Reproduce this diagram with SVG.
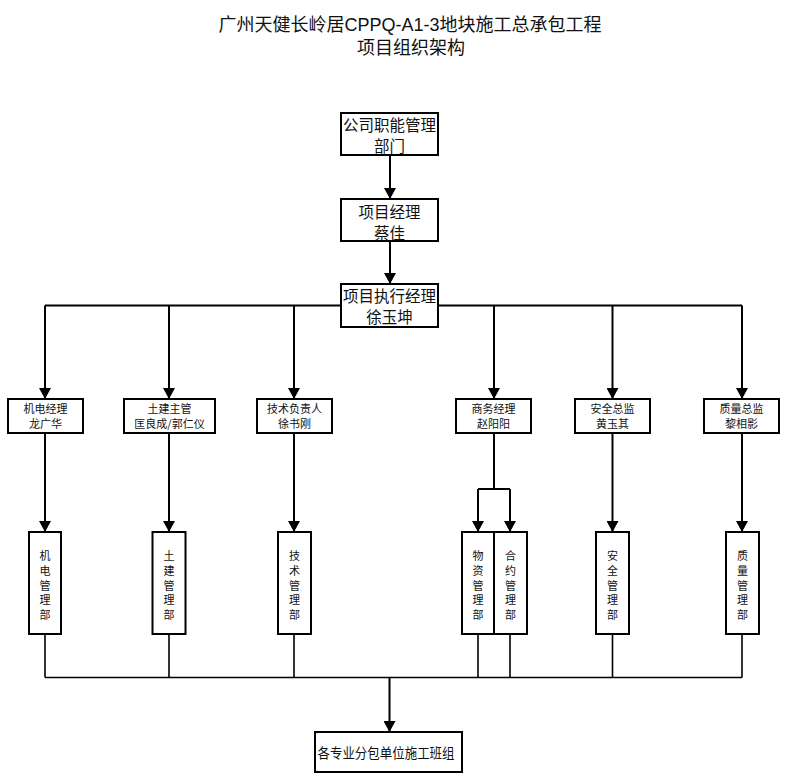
<svg xmlns="http://www.w3.org/2000/svg" width="812" height="777" viewBox="0 0 812 777">
<style>
text{font-family:"Noto Sans CJK SC","Liberation Sans",sans-serif;fill:#111;text-anchor:middle}
.title{font-size:18px}
.big{font-size:15.5px}
.mid{font-size:11px}
.dep{font-size:11px}
.box{fill:#fff;stroke:#000;stroke-width:2}
.arr{fill:none;stroke:#000;stroke-width:2;marker-end:url(#ah)}
.ln{fill:none;stroke:#000;stroke-width:1.6}
</style>
<defs>
<marker id="ah" markerUnits="userSpaceOnUse" markerWidth="12" markerHeight="12" refX="11" refY="6" orient="auto">
<path d="M0,0 L11,6 L0,12 Z" fill="#000"/>
</marker>
</defs>
<rect width="812" height="777" fill="#fff"/>
<g id="title">
<text class="title" x="410" y="31">广州天健长岭居<tspan font-family="Liberation Sans">CPPQ-A1-3</tspan>地块施工总承包工程</text>
<text class="title" x="411" y="54">项目组织架构</text>
</g>
<g id="connectors">
<path class="arr" d="M390,155 V199"/>
<path class="arr" d="M390,241 V284"/>
<path class="ln" d="M45,305.5 H341 M438,305.5 H742" style="stroke-width:2"/>
<path class="arr" d="M45,305.5 V399"/>
<path class="arr" d="M169,305.5 V399"/>
<path class="arr" d="M294,305.5 V399"/>
<path class="arr" d="M494,305.5 V399"/>
<path class="arr" d="M612.5,305.5 V399"/>
<path class="arr" d="M742,305.5 V399"/>
<path class="arr" d="M45,433 V532"/>
<path class="arr" d="M169,433 V532"/>
<path class="arr" d="M294,433 V532"/>
<path class="ln" d="M494,433 V489 M478,489 H510" style="stroke-width:2"/>
<path class="arr" d="M478,489 V532"/>
<path class="arr" d="M510,489 V532"/>
<path class="arr" d="M612.5,433 V532"/>
<path class="arr" d="M742,433 V532"/>
<path class="ln" d="M45,634 V677.5 M169,634 V677.5 M294,634 V677.5 M478,634 V677.5 M510,634 V677.5 M612.5,634 V677.5 M742,634 V677.5 M45,677.5 H742"/>
<path class="arr" d="M389.5,677.5 V732"/>
</g>
<g id="n-company">
<rect class="box" x="341" y="113" width="97" height="42"/>
<text class="big" x="389.5" y="131">公司职能管理</text>
<text class="big" x="389.5" y="152">部门</text>
</g>
<g id="n-pm">
<rect class="box" x="341" y="199" width="97" height="42"/>
<text class="big" x="389.5" y="218">项目经理</text>
<text class="big" x="389.5" y="239">蔡佳</text>
</g>
<g id="n-epm">
<rect class="box" x="341" y="284" width="97" height="43"/>
<text class="big" x="389.5" y="302">项目执行经理</text>
<text class="big" x="389.5" y="323">徐玉坤</text>
</g>
<g id="n-me">
<rect class="box" x="8" y="399" width="75" height="34"/>
<text class="mid" x="45.5" y="413">机电经理</text>
<text class="mid" x="45.5" y="428">龙广华</text>
</g>
<g id="n-civil">
<rect class="box" x="124" y="399" width="91" height="34"/>
<text class="mid" x="169.5" y="413">土建主管</text>
<text class="mid" x="169.5" y="428">匡良成/郭仁仪</text>
</g>
<g id="n-tech">
<rect class="box" x="257" y="399" width="75" height="34"/>
<text class="mid" x="294.5" y="413">技术负责人</text>
<text class="mid" x="294.5" y="428">徐书刚</text>
</g>
<g id="n-biz">
<rect class="box" x="456" y="399" width="75" height="34"/>
<text class="mid" x="493.5" y="413">商务经理</text>
<text class="mid" x="493.5" y="428">赵阳阳</text>
</g>
<g id="n-safety">
<rect class="box" x="575" y="399" width="75" height="34"/>
<text class="mid" x="612.5" y="413">安全总监</text>
<text class="mid" x="612.5" y="428">黄玉其</text>
</g>
<g id="n-quality">
<rect class="box" x="704" y="399" width="75" height="34"/>
<text class="mid" x="741.5" y="413">质量总监</text>
<text class="mid" x="741.5" y="428">黎相影</text>
</g>
<g id="d-me">
<rect class="box" x="29" y="532" width="32" height="102"/>
<text class="dep"><tspan x="45" y="560">机</tspan><tspan x="45" y="575">电</tspan><tspan x="45" y="589.5">管</tspan><tspan x="45" y="604">理</tspan><tspan x="45" y="619">部</tspan></text>
</g>
<g id="d-civil">
<rect class="box" x="152.5" y="532" width="33" height="102"/>
<text class="dep"><tspan x="169" y="560">土</tspan><tspan x="169" y="575">建</tspan><tspan x="169" y="589.5">管</tspan><tspan x="169" y="604">理</tspan><tspan x="169" y="619">部</tspan></text>
</g>
<g id="d-tech">
<rect class="box" x="278" y="532" width="33" height="102"/>
<text class="dep"><tspan x="294.5" y="560">技</tspan><tspan x="294.5" y="575">术</tspan><tspan x="294.5" y="589.5">管</tspan><tspan x="294.5" y="604">理</tspan><tspan x="294.5" y="619">部</tspan></text>
</g>
<g id="d-material">
<rect class="box" x="462" y="532" width="32" height="102"/>
<text class="dep"><tspan x="478" y="560">物</tspan><tspan x="478" y="575">资</tspan><tspan x="478" y="589.5">管</tspan><tspan x="478" y="604">理</tspan><tspan x="478" y="619">部</tspan></text>
</g>
<g id="d-contract">
<rect class="box" x="494" y="532" width="33" height="102"/>
<text class="dep"><tspan x="510.5" y="560">合</tspan><tspan x="510.5" y="575">约</tspan><tspan x="510.5" y="589.5">管</tspan><tspan x="510.5" y="604">理</tspan><tspan x="510.5" y="619">部</tspan></text>
</g>
<g id="d-safety">
<rect class="box" x="596" y="532" width="33" height="102"/>
<text class="dep"><tspan x="612.5" y="560">安</tspan><tspan x="612.5" y="575">全</tspan><tspan x="612.5" y="589.5">管</tspan><tspan x="612.5" y="604">理</tspan><tspan x="612.5" y="619">部</tspan></text>
</g>
<g id="d-quality">
<rect class="box" x="726" y="532" width="33" height="102"/>
<text class="dep"><tspan x="742.5" y="560">质</tspan><tspan x="742.5" y="575">量</tspan><tspan x="742.5" y="589.5">管</tspan><tspan x="742.5" y="604">理</tspan><tspan x="742.5" y="619">部</tspan></text>
</g>
<g id="n-teams">
<rect class="box" x="315" y="732" width="147" height="40"/>
<text x="386" y="758" style="font-size:13.5px" textLength="137" lengthAdjust="spacingAndGlyphs">各专业分包单位施工班组</text>
</g>
</svg>
